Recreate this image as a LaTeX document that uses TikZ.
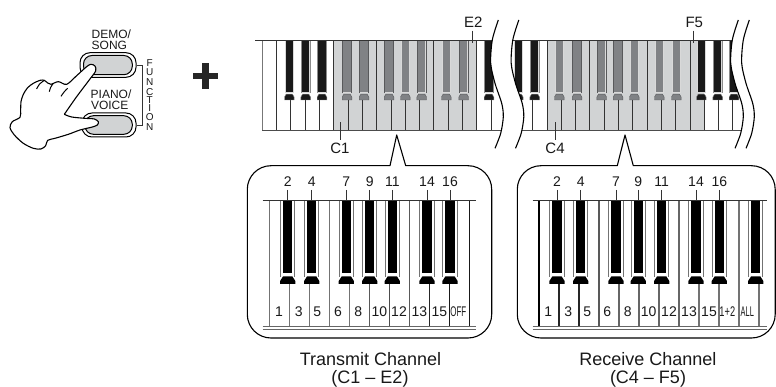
\documentclass[tikz,border=0pt]{standalone}
\usepackage{fontspec}
\setmainfont{Liberation Sans}
\newcommand\fs[1]{\fontsize{#1}{#1}\selectfont}
\newcommand\wv[1]{plot[smooth] coordinates {(498.3+#1,20) (492.3+#1,40) (490.7+#1,63.3) (495+#1,83.3) (501.7+#1,103.3) (503.3+#1,116.7) (500.7+#1,133.3) (495+#1,148.3)}}
\newcommand\lwv[1]{-- plot[smooth] coordinates {(498.3+#1,20) (492.3+#1,40) (490.7+#1,63.3) (495+#1,83.3) (501.7+#1,103.3) (503.3+#1,116.7) (500.7+#1,133.3) (495+#1,148.3)}}
\definecolor{keyshade}{HTML}{D1D3D4}
\definecolor{core}{HTML}{808285}
\definecolor{coreedge}{HTML}{58595B}
\definecolor{keyline}{HTML}{333333}
\definecolor{sideline}{HTML}{777777}
\tikzset{
  txt/.style={inner sep=0pt,outer sep=0pt,anchor=base,text=black!90},
  lab/.style={txt,font=\fs{14}},
  keylab/.style={txt,font=\fs{15}},
  captxt/.style={txt,font=\fs{18}},
  btn/.style={txt,font=\fs{12},anchor=base west},
  fn/.style={txt,font=\fs{10},anchor=center},
  tick/.style={draw=keyline,line width=0.8pt},
  wave/.style={draw=black,line width=1.1pt},
  panel/.style={draw=black,line width=1.1pt,fill=white,line join=round},
}
% small keyboard black key: x, core colour, side colour
\newcommand\smkey[3]{%
  \fill[#3] (#1-4.8,40.7) rectangle (#1+4.8,93);
  \fill[white!85!black] (#1-4.2,40.7) rectangle (#1+4.2,93.5);
  \fill[#2] (#1-3.6,40.7) rectangle (#1+3.6,92.2);
  \fill[#2,draw=#3,line width=0.4pt] (#1-3.2,94.2) -- (#1+3.2,94.2) -- (#1+4.8,97) -- (#1+4.8,100) -- (#1-4.8,100) -- (#1-4.8,97) -- cycle;
}
% large panel black key
\newcommand\bigkey[1]{%
  \draw[black!55,line width=0.9pt] (#1-7.2,200.7) -- (#1-7.2,277) (#1+7.2,200.7) -- (#1+7.2,277);
  \fill[black] (#1-4.6,200.7) rectangle (#1+4.6,273.5);
  \fill[black] (#1-4.6,276.3) -- (#1+4.6,276.3) -- (#1+7.6,281) -- (#1+7.6,284) -- (#1-7.6,284) -- (#1-7.6,281) -- cycle;
}
\begin{document}
\begin{tikzpicture}[x=1pt,y=-1pt]
\useasboundingbox (0,0) rectangle (776,387);
\fill[white] (0,0) rectangle (776,387);

% ---- buttons
\draw[black,line width=1pt,rounded corners=10pt] (80,52.7) rectangle (136,77.3);
\draw[black,fill=keyshade,line width=1pt,rounded corners=8.5pt] (83.5,55.5) rectangle (132.3,74.7);
\draw[black,line width=1pt,rounded corners=10pt] (82,113) rectangle (136,137);
\draw[black,fill=keyshade,line width=1pt,rounded corners=8.5pt] (85,115.7) rectangle (132.3,134.3);
\node[btn] (demo) at (91.7,38.3) {DEMO/};
\node[btn] (song) at (91.7,49.7) {SONG};
\node[btn] (piano) at (90.7,98.3) {PIANO/};
\node[btn] (voice) at (91,109.3) {VOICE};
\draw[keyline,line width=0.8pt] (137.3,65.7) -- (142.7,65.7) -- (142.7,125) -- (137.3,125);
\foreach \l/\y [count=\i] in {F/62.8,U/72,N/82,C/91.7,T/100.3,I/108.3,O/117.5,N/127}
  \node[fn] (fn\i) at (149.7,\y) {\l};

% ---- hand
\begin{scope}[shift={(5,55)},x=0.3333pt,y=-0.3333pt]
\draw[black,fill=white,line width=1.1pt,line join=round]
 plot[smooth,tension=0.5] coordinates {(178,178) (200,186) (240,190) (268,192) (280,200) (277,210) (262,216) (225,225) (190,238) (150,250) (128,256) (122,272) (108,282) (85,280) (55,265) (28,240) (15,218) (22,200) (45,187) (47,165) (48,140) (55,118) (68,98) (85,85) (105,76) (118,76) (128,84) (138,88) (160,80) (185,88) (215,62) (245,35) (258,28) (270,33) (272,48) (255,72) (215,125) (178,178)};
\draw[black,line width=1pt] plot[smooth] coordinates {(95,102) (103,88) (118,76)};
\draw[black,line width=1pt] plot[smooth] coordinates {(133,110) (137,97) (145,85)};
\draw[black,line width=1pt] plot[smooth] coordinates {(168,124) (178,110) (188,100)};
\end{scope}

% ---- plus
\fill[black!85] (192.5,72.7) rectangle (218.2,79.4);
\fill[black!85] (202,63.3) rectangle (208.7,89);

% ---- keyboard 1
\begin{scope}
\clip (255,18) \lwv{0} -- (255,150) -- cycle;
\fill[keyshade] (334,40.7) rectangle (477,130.7);
\foreach \i in {0,...,16} {
  \pgfmathsetmacro\xx{262.3+14.3*\i}
  \draw[keyline,line width=0.9pt] (\xx,100) -- (\xx,130.7);
}
\foreach \i in {0,1,5,8,12,15} {
  \pgfmathsetmacro\xx{262.3+14.3*\i}
  \draw[keyline,line width=0.9pt] (\xx,40.7) -- (\xx,100);
}
\draw[sideline,line width=1pt] (262.3,40.7) -- (262.3,130.7);
\foreach \x in {289.3,305.7,322} \smkey{\x}{black!90}{black!45};
\foreach \x in {347,364,389,405.3,421.7,446.3,463.7} \smkey{\x}{core}{coreedge};
\smkey{489}{black!90}{black!45}
\draw[keyline,line width=0.9pt] (255,40.7) -- (510,40.7);
\draw[black!70,line width=1.5pt] (262,130.7) -- (510,130.7);
\end{scope}

% ---- keyboard 2
\begin{scope}
\clip (505,18) \lwv{240} -- (505,150) -- cycle;
\clip (760,18) \lwv{20.5} -- (760,150) -- cycle;
\fill[keyshade] (546.7,40.7) rectangle (704,130.7);
\foreach \i in {0,...,14} {
  \pgfmathsetmacro\xx{532.7+14.3*\i}
  \draw[keyline,line width=0.9pt] (\xx,100) -- (\xx,130.7);
}
\foreach \i in {1,4,8,11} {
  \pgfmathsetmacro\xx{532.7+14.3*\i}
  \draw[keyline,line width=0.9pt] (\xx,40.7) -- (\xx,100);
}
\foreach \x in {518.3,534.7,701.3,717.7,734} \smkey{\x}{black!90}{black!45};
\foreach \x in {559.3,577,601.7,618,634.3,659.3,676.3} \smkey{\x}{core}{coreedge};
\draw[keyline,line width=0.9pt] (505,40.7) -- (760,40.7);
\draw[black!70,line width=1.5pt] (505,130.7) -- (760,130.7);
\end{scope}

% ---- waves
\draw[wave] \wv{0};
\draw[wave] \wv{20.5};
\draw[wave] \wv{240};
\draw[wave] \wv{251};

% ---- keyboard labels
\node[keylab] (e2) at (473.3,28) {E2};
\node[keylab] (c1) at (340,154) {C1};
\node[keylab] (f5) at (694.3,28) {F5};
\node[keylab] (c4) at (555,154) {C4};
\coordinate (e2k) at (472.7,43);
\coordinate (f5k) at (693.3,43);
\coordinate (c1k) at (340.7,121.7);
\coordinate (c4k) at (555,121.7);
\draw[tick] (e2k |- 0,30.7) -- (e2k);
\draw[tick] (f5k |- 0,30.7) -- (f5k);
\draw[tick] (c1k |- 0,140) -- (c1k);
\draw[tick] (c4k |- 0,140) -- (c4k);

% ---- panel 1
\draw[panel] (271,165.7) -- (390,165.7) -- (396.7,135) -- (405.7,165.7) -- (468,165.7)
  arc[start angle=90,end angle=0,radius=23.7pt] -- (491.7,314.3)
  arc[start angle=0,end angle=-90,radius=23.7pt] -- (271,338)
  arc[start angle=-90,end angle=-180,radius=23.7pt] -- (247.3,189.4)
  arc[start angle=180,end angle=90,radius=23.7pt] -- cycle;
\foreach \i/\c in {0/black!55,1/black!55,2/black!55,3/black!55,4/black!55,5/black!65,6/black!70,7/black!65,8/black!85,9/black!90,10/black!90} {
  \pgfmathsetmacro\xx{269.3+20*\i}
  \draw[\c,line width=1.2pt] (\xx,284) -- (\xx,326);
}
\foreach \i/\c in {0/black!55,3/black!55,7/black!65,10/black!90} {
  \pgfmathsetmacro\xx{269.3+20*\i}
  \draw[\c,line width=1.2pt] (\xx,200.7) -- (\xx,284);
}
\foreach \x in {287.7,311.7,346.3,369.7,392.3,427,450} \bigkey{\x};
\draw[keyline,line width=0.8pt] (262.7,200.7) -- (476,200.7);
\draw[black!60,line width=0.8pt] (262.7,326) -- (476,326);
\draw[black!60,line width=0.8pt] (262.7,329) -- (476,329);
\foreach \x/\t [count=\i] in {287.7/2,311.7/4,346.3/7,369.7/9,392.3/11,427/14,450/16} {
  \node[lab] (pa\i) at (\x,186.7) {\t};
  \coordinate (pak\i) at (\x,200.7);
  \draw[tick] (pak\i |- 0,190) -- (pak\i);
}
\foreach \x/\t [count=\i] in {279/1,298.7/3,317.3/5,338/6,358.3/8,379.3/10,399/12,419.3/13,439.3/15} {
  \node[lab] (pw\i) at (\x,316.7) {\t};
}
\node[lab,xscale=0.57] (off) at (458.3,316.7) {OFF};
\node[captxt] (tx) at (370.5,365) {Transmit Channel};
\node[captxt] (txr) at (370,383) {(C1 – E2)};

% ---- panel 2
\draw[panel] (541,165.7) -- (617.3,165.7) -- (625,135) -- (633.3,165.7) -- (751.5,165.7)
  arc[start angle=90,end angle=0,radius=23.7pt] -- (775.2,314.3)
  arc[start angle=0,end angle=-90,radius=23.7pt] -- (541,338)
  arc[start angle=-90,end angle=-180,radius=23.7pt] -- (517.3,189.4)
  arc[start angle=180,end angle=90,radius=23.7pt] -- cycle;
\foreach \i/\c in {0/black,1/black!85,2/black!85,3/black!65,4/black!60,5/black!60,6/black!60,7/black!60,8/black!55,9/black!55,10/black!55,11/black!55} {
  \pgfmathsetmacro\xx{539+20*\i}
  \draw[\c,line width=1.2pt] (\xx,284) -- (\xx,326);
}
\foreach \i/\c in {0/black,3/black!65,7/black!60,10/black!55} {
  \pgfmathsetmacro\xx{539+20*\i}
  \draw[\c,line width=1.2pt] (\xx,200.7) -- (\xx,284);
}
\foreach \x in {557,580.7,616,638.3,661.7,696,719.3,755.7} \bigkey{\x};
\draw[keyline,line width=0.8pt] (532.7,200.7) -- (766.7,200.7);
\draw[black!60,line width=0.8pt] (532.7,326) -- (766.7,326);
\draw[black!60,line width=0.8pt] (532.7,329) -- (766.7,329);
\foreach \x/\t [count=\i] in {557/2,580.7/4,616/7,638.3/9,661.7/11,696/14,719.3/16} {
  \node[lab] (pb\i) at (\x,186.7) {\t};
  \coordinate (pbk\i) at (\x,200.7);
  \draw[tick] (pbk\i |- 0,190) -- (pbk\i);
}
\foreach \x/\t [count=\i] in {548.3/1,568.3/3,587.3/5,607.3/6,627.7/8,648.7/10,669/12,689/13,709/15} {
  \node[lab] (qw\i) at (\x,316.7) {\t};
}
\node[lab,xscale=0.66] (oneplus) at (727.3,316.7) {1+2};
\node[lab,xscale=0.53] (all) at (747.3,316.7) {ALL};
\node[captxt] (rx) at (647.8,365) {Receive Channel};
\node[captxt] (rxr) at (648,383) {(C4 – F5)};
\end{tikzpicture}
\end{document}
